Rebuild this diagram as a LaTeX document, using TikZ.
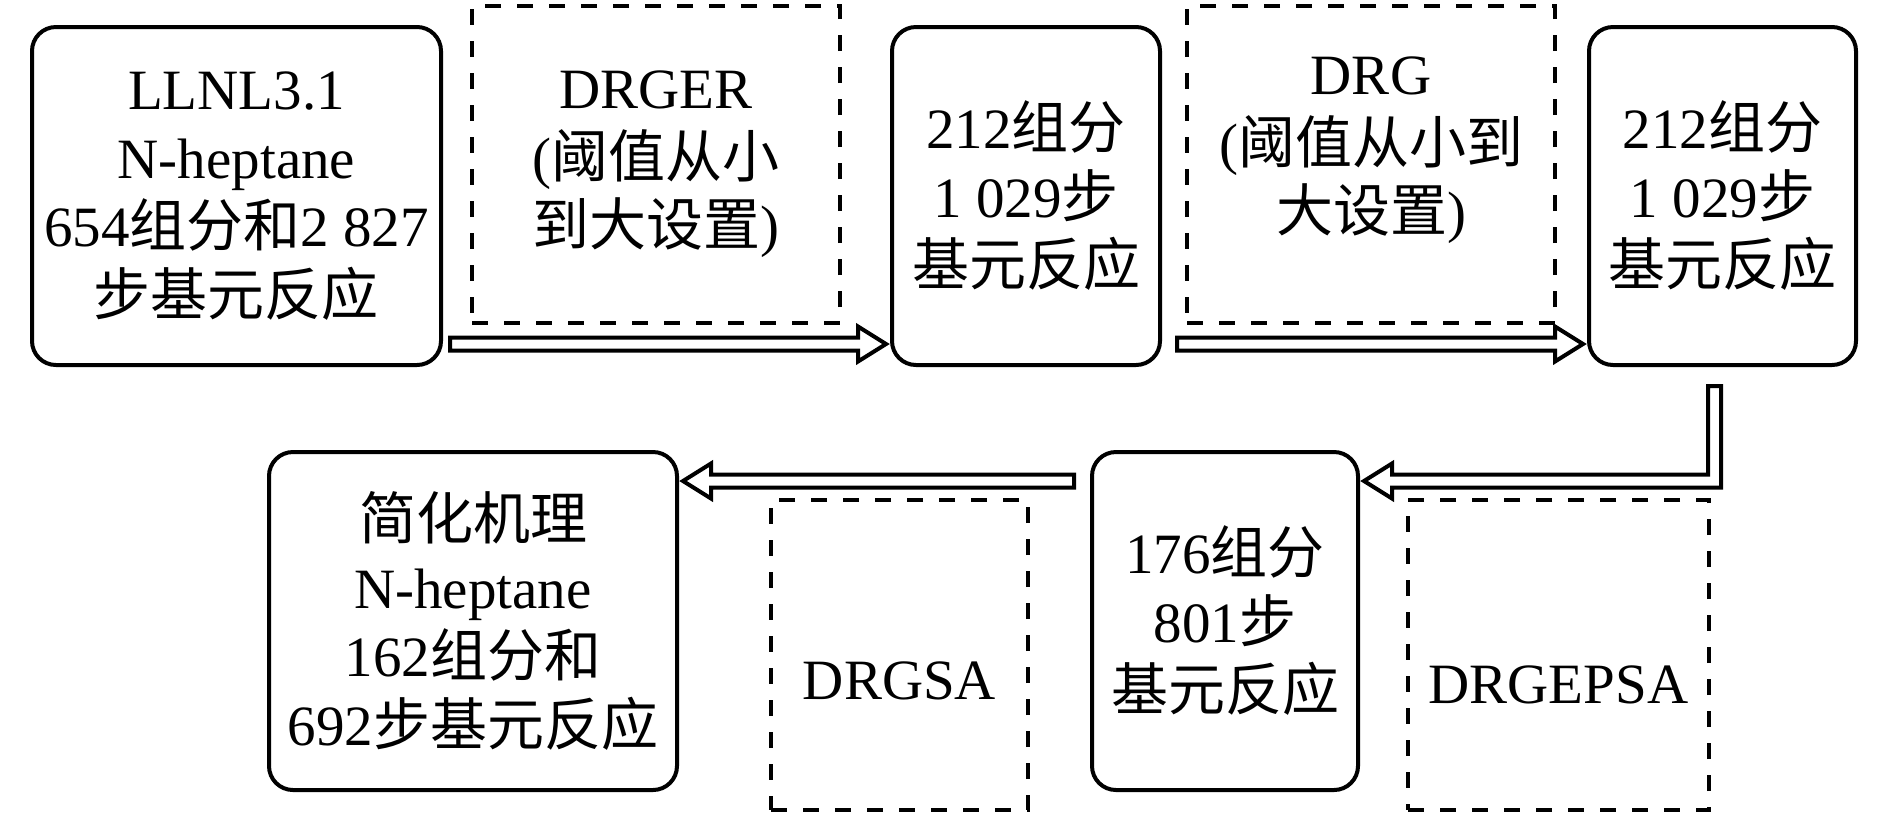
\documentclass[tikz,border=0pt]{standalone}
\usepackage{fontspec}
\setmainfont{Liberation Serif}
\newfontfamily\cjk{Noto Sans CJK SC}
\newcommand{\zh}[1]{{\cjk #1}}
\usetikzlibrary{calc}

% hollow block arrows, start point -> tip point
\newcommand{\flowright}[2]{%
  \draw[flow] ($(#1)+(0,-3.25)$) -- ($(#2)+(-14,-3.25)$) -- ($(#2)+(-14,-8.75)$) -- (#2)
    -- ($(#2)+(-14,8.75)$) -- ($(#2)+(-14,3.25)$) -- ($(#1)+(0,3.25)$) -- cycle;}
\newcommand{\flowleft}[2]{%
  \draw[flow] ($(#1)+(0,-3.25)$) -- ($(#2)+(14,-3.25)$) -- ($(#2)+(14,-8.75)$) -- (#2)
    -- ($(#2)+(14,8.75)$) -- ($(#2)+(14,3.25)$) -- ($(#1)+(0,3.25)$) -- cycle;}

\begin{document}
\begin{tikzpicture}[x=1pt, y=-1pt,
    font=\fontsize{28.5pt}{34.25pt}\selectfont,
    box/.style={draw, line width=2pt, rounded corners=12pt, align=center, inner sep=0pt},
    dashbox/.style={draw, line width=2pt, dash pattern=on 8pt off 8pt, inner sep=0pt},
    txt/.style={align=center, inner sep=0pt},
    flow/.style={draw, line width=2pt, fill=white, line join=miter}]
  \useasboundingbox (0,0) rectangle (945,408);

  % top row
  \node[box, minimum width=204.5pt, minimum height=169pt] (llnl) at (118.25,98)
    {LLNL3.1\\N-heptane\\654\zh{组分和}2 827\\\zh{步基元反应}};
  \node[dashbox, minimum width=184pt, minimum height=158.5pt] (drger) at (328,82.25) {};
  \node[txt] (drger-t) at (drger) {DRGER\\(\zh{阈值从小}\\\zh{到大设置})};
  \node[box, minimum width=134pt, minimum height=169pt] (mech1) at (513,98)
    {212\zh{组分}\\1 029\zh{步}\\\zh{基元反应}};
  \node[dashbox, minimum width=184pt, minimum height=158.5pt] (drg) at (685.5,82.25) {};
  \node[txt] (drg-t) at ($(drg)+(0,-7)$) {DRG\\(\zh{阈值从小到}\\\zh{大设置})};
  \node[box, minimum width=133.5pt, minimum height=169pt] (mech2) at (861.25,98)
    {212\zh{组分}\\1 029\zh{步}\\\zh{基元反应}};

  % bottom row
  \node[box, minimum width=133pt, minimum height=169pt] (mech3) at (612.5,310.5)
    {176\zh{组分}\\801\zh{步}\\\zh{基元反应}};
  \node[dashbox, minimum width=150.5pt, minimum height=155pt] (drgepsa) at (779.25,327.5) {};
  \node[txt] (drgepsa-t) at ($(drgepsa)+(0,15)$) {DRGEPSA};
  \node[box, minimum width=204pt, minimum height=169pt] (final) at (236.5,310.5)
    {\zh{简化机理}\\N-heptane\\162\zh{组分和}\\692\zh{步基元反应}};
  \node[dashbox, minimum width=128.5pt, minimum height=155pt] (drgsa) at (449.75,327.5) {};
  \node[txt] (drgsa-t) at ($(drgsa)+(0,13)$) {DRGSA};

  % arrows
  \coordinate (a1s) at ($(llnl.south east)+(3.5,-11.5)$);
  \coordinate (a1t) at ($(a1s -| mech1.west)+(-2,0)$);
  \flowright{a1s}{a1t}
  \coordinate (a2s) at ($(mech1.south east)+(7.5,-11.5)$);
  \coordinate (a2t) at ($(a2s -| mech2.west)+(-2,0)$);
  \flowright{a2s}{a2t}
  \coordinate (e0) at ($(mech2.south)+(-4,9.5)$);
  \coordinate (e1) at ($(e0 |- mech3.north)+(0,15.5)$);
  \coordinate (e2) at ($(e1 -| mech3.east)+(2,0)$);
  \draw[flow] ($(e0)+(-3.25,0)$) -- ($(e1)+(-3.25,-3.25)$) -- ($(e2)+(14,-3.25)$)
    -- ($(e2)+(14,-8.75)$) -- (e2) -- ($(e2)+(14,8.75)$) -- ($(e2)+(14,3.25)$)
    -- ($(e1)+(3.25,3.25)$) -- ($(e0)+(3.25,0)$) -- cycle;
  \coordinate (a3s) at ($(e1 -| mech3.west)+(-8,0)$);
  \coordinate (a3t) at ($(a3s -| final.east)+(2,0)$);
  \flowleft{a3s}{a3t}
\end{tikzpicture}
\end{document}
